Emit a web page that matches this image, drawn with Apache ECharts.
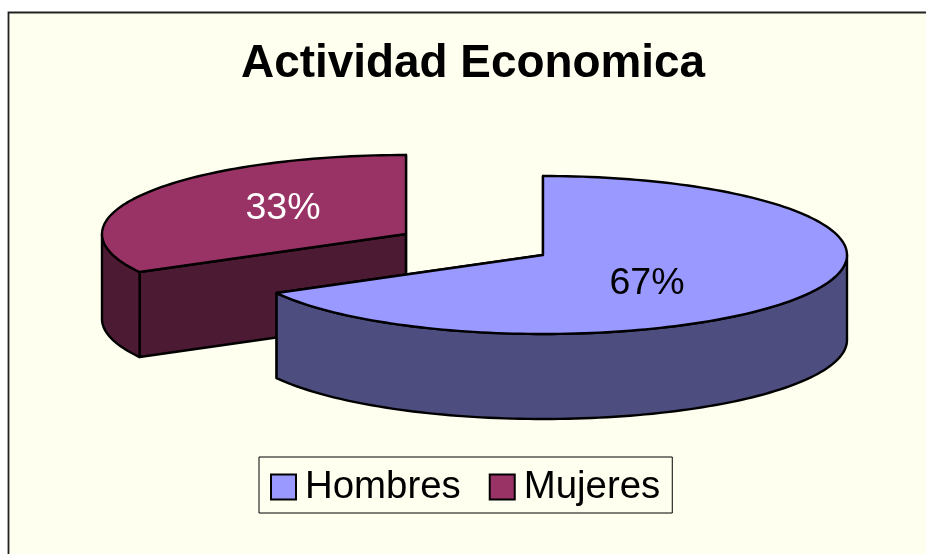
<!DOCTYPE html>
<html>
<head>
<meta charset="utf-8">
<style>html,body{margin:0;padding:0;background:#fff}#c{width:926px;height:554px}</style>
<script src="https://cdn.jsdelivr.net/npm/echarts@6/dist/echarts.min.js"></script>
</head>
<body>
<div id="c"></div>
<script>
const categories = ['Hombres', 'Mujeres'];
const shares = [67, 33];
const titleText = 'Actividad Economica';

const topColors = ['#9999FF', '#993366'];
const wallColors = ['#4D4D80', '#4D1A33'];
const labelColors = ['#000000', '#FFFFFF'];
const centers = [[543, 255], [406, 234]];
const labelCenters = [[647, 284], [283, 209]];
const RX = 304, RY = 79, DEPTH = 85;
const FONT = '"Liberation Sans", Arial, sans-serif';

const total = shares.reduce((a, b) => a + b, 0);

function pt(c, deg, drop) {
  const r = deg * Math.PI / 180;
  return [c[0] + RX * Math.sin(r), c[1] - RY * Math.cos(r) + (drop || 0)];
}
function arc(c, a0, a1, drop) {
  const out = [], n = Math.max(2, Math.ceil(Math.abs(a1 - a0) / 1.5));
  for (let i = 0; i <= n; i++) out.push(pt(c, a0 + (a1 - a0) * i / n, drop));
  return out;
}
const line = { stroke: '#000', lineWidth: 2.4, lineJoin: 'round' };

function renderSlice(idx) {
  return function () {
    const before = shares.slice(0, idx).reduce((a, b) => a + b, 0);
    const a0 = before / total * 360, a1 = (before + shares[idx]) / total * 360;
    const c = centers[idx], wall = wallColors[idx], kids = [];
    [a0, a1].forEach(a => {
      const e = pt(c, a);
      kids.push({ type: 'polygon', shape: { points: [c, e, [e[0], e[1] + DEPTH], [c[0], c[1] + DEPTH]] },
        style: Object.assign({ fill: wall }, line) });
    });
    const f0 = Math.max(a0, 90), f1 = Math.min(a1, 270);
    if (f1 > f0) {
      kids.push({ type: 'polygon', shape: { points: arc(c, f0, f1, 0).concat(arc(c, f1, f0, DEPTH)) },
        style: Object.assign({ fill: wall }, line) });
    }
    kids.push({ type: 'polygon', shape: { points: [c].concat(arc(c, a0, a1, 0)) },
      style: Object.assign({ fill: topColors[idx] }, line) });
    kids.push({ type: 'text', x: labelCenters[idx][0], y: labelCenters[idx][1],
      style: { text: Math.round(shares[idx] / total * 100) + '%', fill: labelColors[idx],
        font: '37.5px ' + FONT, align: 'center', verticalAlign: 'middle' } });
    return { type: 'group', children: kids };
  };
}

const chart = echarts.init(document.getElementById('c'), null, { renderer: 'canvas' });
chart.setOption({
  animation: false,
  backgroundColor: '#FFFFFF',
  title: { text: titleText, left: 241, top: 41, padding: 0,
    textStyle: { fontFamily: FONT, fontWeight: 'bold', fontSize: 45.9, color: '#000' } },
  legend: {
    left: 259, top: 457, padding: [11, 12, 7, 11], itemGap: 28,
    itemWidth: 25, itemHeight: 25, icon: 'rect',
    itemStyle: { borderColor: '#000', borderWidth: 2 },
    backgroundColor: '#FFFFEF', borderColor: '#000', borderWidth: 1, borderRadius: 0,
    selectedMode: false,
    data: categories,
    textStyle: { fontFamily: FONT, fontSize: 38.4, color: '#000', padding: [0, 0, 0, 4] }
  },
  graphic: [
    { type: 'rect', z: -10, silent: true, shape: { x: 8, y: 12, width: 918, height: 542 }, style: { fill: '#FFFFEF' } },
    { type: 'polyline', z: -9, silent: true, shape: { points: [[8.5, 554], [8.5, 12.5], [926, 12.5]] },
      style: { fill: null, stroke: '#222', lineWidth: 1.8 } }
  ],
  series: categories.map((name, i) => ({
    type: 'custom', name, coordinateSystem: 'none', silent: true, z: 2 + (categories.length - i),
    data: [shares[i]],
    itemStyle: { color: topColors[i], borderColor: '#000', borderWidth: 2 },
    renderItem: renderSlice(i)
  }))
});
</script>
</body>
</html>
